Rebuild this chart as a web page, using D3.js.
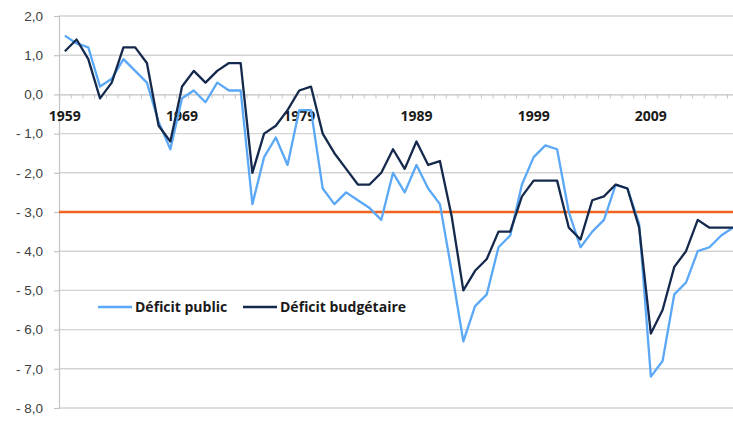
<!DOCTYPE html>
<html>
<head>
<meta charset="utf-8">
<script src="https://cdn.jsdelivr.net/npm/d3@7"></script>
<style>
  body { margin: 0; background: #fff; }
  svg { display: block; }
</style>
</head>
<body>
<div id="visualization"></div>
<script>
// years on the category axis
const years = d3.range(1959, 2017);
const labelYears = [1959, 1969, 1979, 1989, 1999, 2009];

// Déficit public (light blue)
const deficitPublic = [
  1.5, 1.3, 1.2, 0.2, 0.4, 0.9, 0.6, 0.3, -0.7, -1.4,
  -0.1, 0.1, -0.2, 0.3, 0.1, 0.1, -2.8, -1.6, -1.1, -1.8,
  -0.4, -0.4, -2.4, -2.8, -2.5, -2.7, -2.9, -3.2, -2.0, -2.5,
  -1.8, -2.4, -2.8, -4.5, -6.3, -5.4, -5.1, -3.9, -3.6, -2.3,
  -1.6, -1.3, -1.4, -3.0, -3.9, -3.5, -3.2, -2.3, -2.4, -3.3,
  -7.2, -6.8, -5.1, -4.8, -4.0, -3.9, -3.6, -3.4
];

// Déficit budgétaire (dark navy)
const deficitBudget = [
  1.1, 1.4, 0.9, -0.1, 0.3, 1.2, 1.2, 0.8, -0.8, -1.2,
  0.2, 0.6, 0.3, 0.6, 0.8, 0.8, -2.0, -1.0, -0.8, -0.4,
  0.1, 0.2, -1.0, -1.5, -1.9, -2.3, -2.3, -2.0, -1.4, -1.9,
  -1.2, -1.8, -1.7, -3.1, -5.0, -4.5, -4.2, -3.5, -3.5, -2.6,
  -2.2, -2.2, -2.2, -3.4, -3.7, -2.7, -2.6, -2.3, -2.4, -3.4,
  -6.1, -5.5, -4.4, -4.0, -3.2, -3.4, -3.4, -3.4
];

// Maastricht threshold
const threshold = -3.0;

const yTicks = [2, 1, 0, -1, -2, -3, -4, -5, -6, -7, -8];

const series = [
  { name: "Déficit public", values: deficitPublic, color: "#5aa8f6" },
  { name: "Déficit budgétaire", values: deficitBudget, color: "#14294c" }
];

const width = 733;
const height = 424;
const margin = { top: 16, left: 59, bottom: 16, right: 0 };
const step = 11.72;

const svg = d3.select("div#visualization").append("svg")
  .attr("width", width)
  .attr("height", height)
  .style("font-family", "'Open Sans', sans-serif");

const x = d3.scaleLinear()
  .domain([years[0] - 0.5, years[0] - 0.5 + years.length])
  .range([margin.left, margin.left + step * years.length]);

const y = d3.scaleLinear()
  .domain([-8, 2])
  .range([408, margin.top]);

const fmt = d => (d < 0 ? "- " : "") + Math.abs(d).toFixed(1).replace(".", ",");

// horizontal gridlines
svg.append("g")
  .selectAll("line")
  .data(yTicks.filter(d => d !== 0))
  .join("line")
  .attr("x1", margin.left)
  .attr("x2", width)
  .attr("y1", d => y(d))
  .attr("y2", d => y(d))
  .attr("stroke", "#d4d4d4")
  .attr("stroke-width", 1.4);

// y axis
const axisY = d3.axisLeft(y).tickValues(yTicks).tickSize(5).tickPadding(11).tickFormat(fmt);
svg.append("g")
  .attr("transform", `translate(${margin.left},0)`)
  .call(axisY)
  .call(g => g.select(".domain").attr("stroke", "#c4c4c4").attr("stroke-width", 1.2))
  .call(g => g.selectAll(".tick line").attr("stroke", "#c4c4c4").attr("stroke-width", 1.2))
  .call(g => g.selectAll(".tick text").attr("fill", "#404040").style("font-size", "13.5px"));

// x axis on the zero line, ticks between categories
const boundaries = d3.range(years.length + 1).map(i => years[0] - 0.5 + i);
const axisX = d3.axisBottom(x).tickValues(boundaries).tickSize(4).tickFormat("");
svg.append("g")
  .attr("transform", `translate(0,${y(0)})`)
  .call(axisX)
  .call(g => g.select(".domain").attr("stroke", "#c4c4c4").attr("stroke-width", 1.4))
  .call(g => g.selectAll(".tick line").attr("stroke", "#c4c4c4").attr("stroke-width", 1));

svg.append("g")
  .selectAll("text")
  .data(labelYears)
  .join("text")
  .attr("x", d => x(d))
  .attr("y", y(0) + 27)
  .attr("text-anchor", "middle")
  .attr("fill", "#1a1a1a")
  .style("font-size", "14px")
  .style("font-weight", "bold")
  .text(d => d);

// -3% line
svg.append("line")
  .attr("x1", margin.left)
  .attr("x2", width)
  .attr("y1", y(threshold))
  .attr("y2", y(threshold))
  .attr("stroke", "#f0641e")
  .attr("stroke-width", 2.6);

// series lines
const line = d3.line()
  .x((d, i) => x(years[i]))
  .y(d => y(d));

svg.append("g")
  .selectAll("path")
  .data(series)
  .join("path")
  .attr("d", d => line(d.values))
  .attr("fill", "none")
  .attr("stroke", d => d.color)
  .attr("stroke-width", 2.3)
  .attr("stroke-linejoin", "round");

// legend
const legendY = 307;
const legendX = [98, 243];
const legend = svg.append("g")
  .selectAll("g")
  .data(series)
  .join("g")
  .attr("transform", (d, i) => `translate(${legendX[i]},${legendY})`);

legend.append("line")
  .attr("x1", 0)
  .attr("x2", 34)
  .attr("stroke", d => d.color)
  .attr("stroke-width", 2.4);

legend.append("text")
  .attr("x", 37)
  .attr("y", 5)
  .attr("fill", "#1a1a1a")
  .style("font-size", "14px")
  .style("font-weight", "bold")
  .text(d => d.name);
</script>
</body>
</html>
